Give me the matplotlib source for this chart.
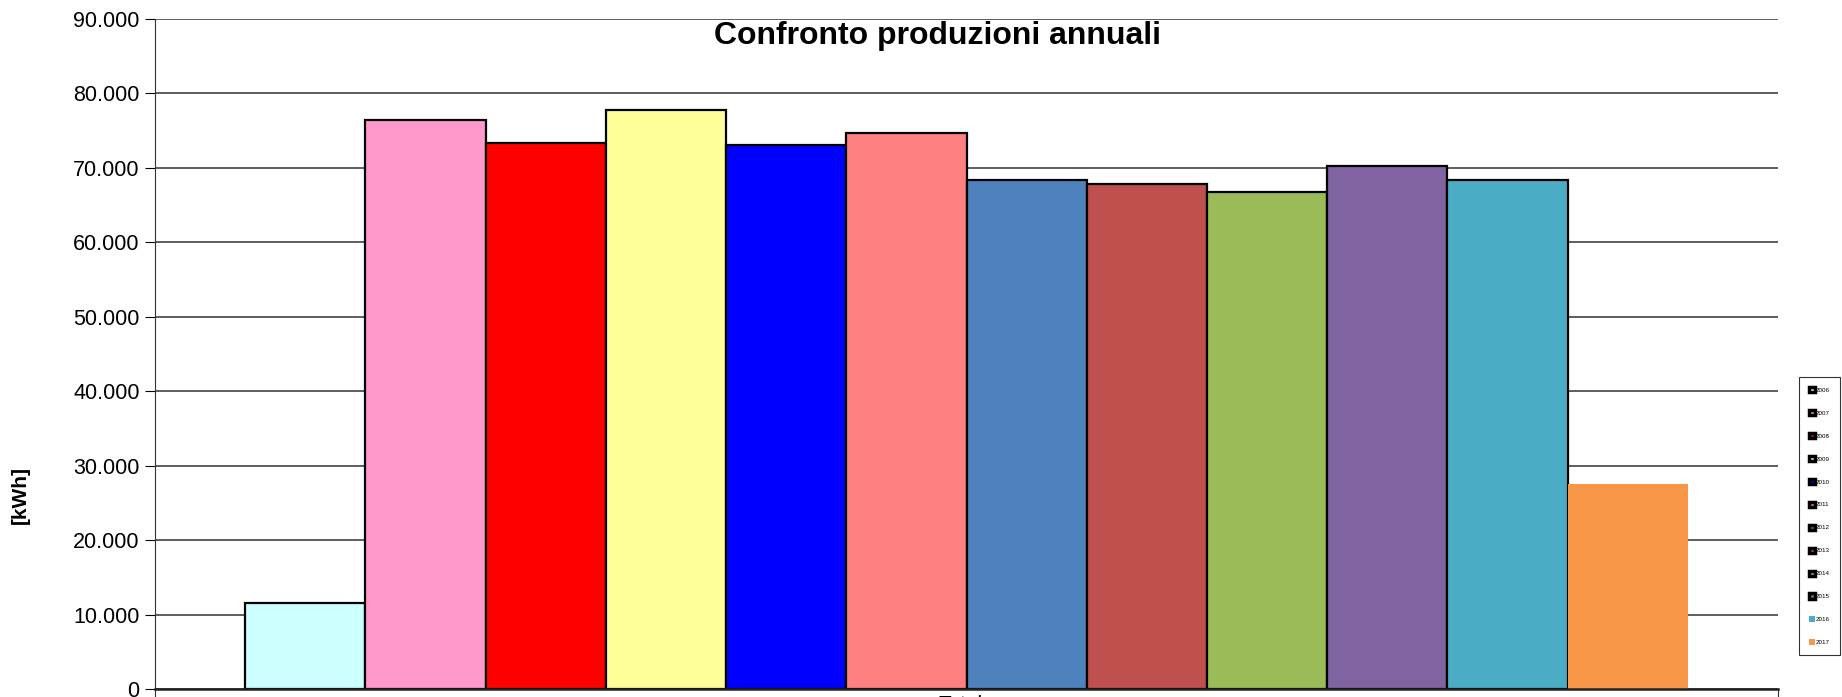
import numpy as np
import matplotlib.pyplot as plt
from matplotlib.patches import Patch
from matplotlib.ticker import FuncFormatter

plt.rcParams['font.family'] = ['Liberation Sans', 'DejaVu Sans']

# Dati: produzione annua [kWh]
anni = ['2006', '2007', '2008', '2009', '2010', '2011',
        '2012', '2013', '2014', '2015', '2016', '2017']
produzione = [11500, 76400, 73400, 77800, 73100, 74700,
              68400, 67900, 66800, 70300, 68400, 27600]
colori = ['#CCFFFF', '#FF99CC', '#FF0000', '#FFFF99', '#0000FF', '#FF8080',
          '#4F81BD', '#C0504D', '#9BBB59', '#8064A2', '#4BACC6', '#F79646']
categoria = 'Totale'

fig = plt.figure(figsize=(18.42, 6.97), dpi=100, facecolor='white')
ax = fig.add_axes([155 / 1842, 1 - 689 / 697, 1623 / 1842, 670 / 697])

n = len(anni)
w = 1 / (n + 1.5)
for i, (anno, val, col) in enumerate(zip(anni, produzione, colori)):
    ec = 'none' if anno == '2017' else 'black'
    ax.bar((i - (n - 1) / 2) * w, val, width=w, color=col, edgecolor=ec,
           linewidth=1.6, zorder=3)

ax.set_xlim(-0.5, 0.5)
ax.set_ylim(0, 90000)
ax.set_yticks(np.arange(0, 90001, 10000))
ax.yaxis.set_major_formatter(FuncFormatter(lambda v, p: f'{int(v):,}'.replace(',', '.')))
ax.grid(axis='y', color='#333333', linewidth=1.1, zorder=0)

ax.set_xticks([-0.5, 0.5])
ax.set_xticklabels(['', ''])
ax.set_xticks([0], minor=True)
ax.set_xticklabels([categoria], minor=True, fontsize=15)
ax.tick_params(axis='x', which='minor', length=0, pad=4)
ax.tick_params(axis='x', which='major', length=7, direction='out', color='#333333')
ax.tick_params(axis='y', length=7, direction='out', labelsize=15.5, pad=4)

for s in ['top', 'right']:
    ax.spines[s].set_visible(False)
ax.spines['left'].set_color('#333333')
ax.spines['bottom'].set_color('#222222')
ax.spines['bottom'].set_linewidth(1.8)
ax.spines['bottom'].set_zorder(4)

ax.set_ylabel('[kWh]', fontsize=15, fontweight='bold')
ax.yaxis.set_label_coords(-0.077, 0.29)

ax.text(0.482, 0.974, 'Confronto produzioni annuali', transform=ax.transAxes,
        ha='center', va='center', fontsize=23, fontweight='bold')

# Legenda
handles = []
for anno, col in zip(anni, colori):
    if anno in ('2016', '2017'):
        handles.append(Patch(facecolor=col, edgecolor='none', label=anno))
    else:
        handles.append(Patch(facecolor=col, edgecolor='black', linewidth=2.5, label=anno))
leg = fig.legend(handles=handles, loc='upper left',
                 bbox_to_anchor=(1799 / 1842, 1 - 377 / 697),
                 fontsize=4.5, frameon=True, fancybox=False, edgecolor='black',
                 handlelength=0.9, handleheight=0.9, handletextpad=0.15,
                 labelspacing=2.75, borderpad=1.6, borderaxespad=0)
leg.get_frame().set_linewidth(0.8)

fig.savefig('out.png', dpi=100, facecolor='white')
